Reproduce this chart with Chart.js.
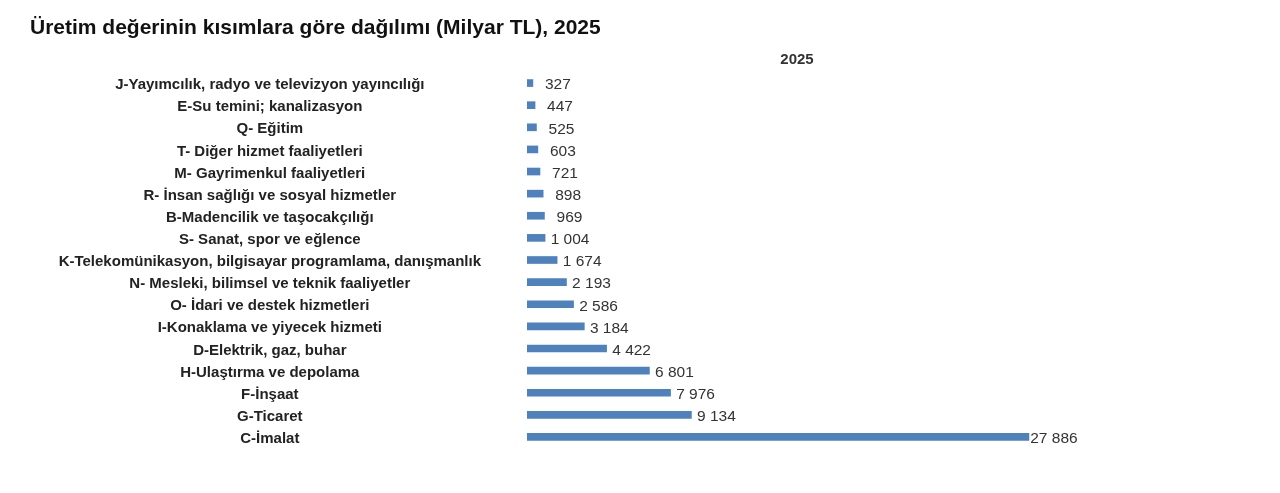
<!DOCTYPE html>
<html>
<head>
<meta charset="utf-8">
<script src="https://cdn.jsdelivr.net/npm/chart.js@4"></script>
<style>
  body { margin: 0; background: #fff; }
  #wrap { width: 1280px; height: 493px; position: relative; }
</style>
</head>
<body>
<div id="wrap"><canvas id="kisimChart"></canvas></div>
<script>
const sectors = [
  "J-Yayımcılık, radyo ve televizyon yayıncılığı",
  "E-Su temini; kanalizasyon",
  "Q- Eğitim",
  "T- Diğer hizmet faaliyetleri",
  "M- Gayrimenkul faaliyetleri",
  "R- İnsan sağlığı ve sosyal hizmetler",
  "B-Madencilik ve taşocakçılığı",
  "S- Sanat, spor ve eğlence",
  "K-Telekomünikasyon, bilgisayar programlama, danışmanlık",
  "N- Mesleki, bilimsel ve teknik faaliyetler",
  "O- İdari ve destek hizmetleri",
  "I-Konaklama ve yiyecek hizmeti",
  "D-Elektrik, gaz, buhar",
  "H-Ulaştırma ve depolama",
  "F-İnşaat",
  "G-Ticaret",
  "C-İmalat"
];
const values2025 = [327, 447, 525, 603, 721, 898, 969, 1004, 1674, 2193, 2586, 3184, 4422, 6801, 7976, 9134, 27886];
const seriesName = "2025";

const FONT = "'Liberation Sans', Arial, sans-serif";

function fmt(v) {
  return String(v).replace(/\B(?=(\d{3})+(?!\d))/g, " ");
}

// value labels just after each bar end
const valueLabels = {
  id: "valueLabels",
  afterDatasetsDraw(chart) {
    const ctx = chart.ctx;
    const meta = chart.getDatasetMeta(0);
    ctx.save();
    ctx.font = "15.5px " + FONT;
    ctx.fillStyle = "#333";
    ctx.textAlign = "center";
    ctx.textBaseline = "middle";
    meta.data.forEach((bar, i) => {
      ctx.fillText(fmt(values2025[i]), bar.x + 25, bar.y + 2);
    });
    ctx.restore();
  }
};

new Chart(document.getElementById("kisimChart").getContext("2d"), {
  type: "bar",
  data: {
    labels: sectors,
    datasets: [
      { label: seriesName, data: values2025, backgroundColor: "#4F81BD", barThickness: 7 }
    ]
  },
  options: {
    indexAxis: "y",
    responsive: true,
    maintainAspectRatio: false,
    animation: false,
    layout: { padding: { left: 30, right: 213, top: 0, bottom: 45 } },
    plugins: {
      legend: { display: false },
      tooltip: { enabled: false },
      title: {
        display: true,
        text: "Üretim değerinin kısımlara göre dağılımı (Milyar TL), 2025",
        align: "start",
        color: "#111",
        font: { family: FONT, size: 21, weight: "bold" },
        padding: { top: 16, bottom: 4.8 }
      }
    },
    scales: {
      x: {
        position: "top",
        min: 0,
        max: 30000,
        grid: { display: false, drawTicks: false },
        border: { display: false },
        ticks: { display: false },
        title: {
          display: true,
          text: seriesName,
          color: "#333",
          font: { family: FONT, size: 15, weight: "bold" },
          padding: { top: 5, bottom: 3 }
        }
      },
      y: {
        grid: { display: false, drawTicks: false },
        border: { display: false },
        ticks: {
          autoSkip: false,
          crossAlign: "center",
          padding: 46,
          labelOffset: 2,
          color: "#222",
          font: { family: FONT, size: 15, weight: "bold" }
        },
        afterFit(scale) {
          scale.width = 497;
          // tick padding is horizontal here, don't let it eat vertical space
          scale.paddingTop = 0;
          scale.paddingBottom = 0;
        }
      }
    }
  },
  plugins: [valueLabels]
});
</script>
</body>
</html>
